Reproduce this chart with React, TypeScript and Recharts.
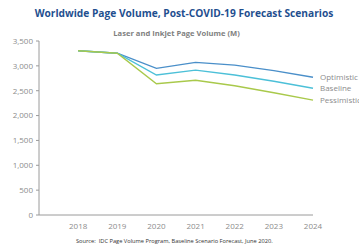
import React from 'react'
import { LineChart, Line, XAxis, YAxis, LabelList } from 'recharts'

const years = [2018, 2019, 2020, 2021, 2022, 2023, 2024]
const optimistic = [3305, 3255, 2950, 3070, 3015, 2905, 2770]
const baseline = [3305, 3255, 2815, 2915, 2815, 2690, 2550]
const pessimistic = [3305, 3255, 2640, 2710, 2600, 2460, 2310]
const yTicks = [0, 500, 1000, 1500, 2000, 2500, 3000, 3500]

const data = years.map((year, i) => ({
  year,
  optimistic: optimistic[i],
  baseline: baseline[i],
  pessimistic: pessimistic[i],
}))

const FONT = '"Open Sans", sans-serif'
const GRAY = '#8c8c8c'

const SERIES = [
  { key: 'optimistic', name: 'Optimistic', color: '#4a8fc9' },
  { key: 'baseline', name: 'Baseline', color: '#4cc0d8' },
  { key: 'pessimistic', name: 'Pessimistic', color: '#a9c94b' },
]

const fmt = (v: number) => v.toLocaleString('en-US')

function endLabel(name: string) {
  return (props: any) => {
    const { x, y, index } = props
    if (index !== years.length - 1) return null
    return (
      <text x={x + 7} y={y} dy={3} fill={GRAY} fontSize={8} fontFamily={FONT}>
        {name}
      </text>
    )
  }
}

export default function App() {
  return (
    <div style={{ position: 'fixed', left: 0, top: 0, width: 359, height: 250, overflow: 'hidden', background: '#fff', fontFamily: FONT }}>
      <div style={styles.title}>Worldwide Page Volume, Post-COVID-19 Forecast Scenarios</div>
      <div style={styles.subtitle}>Laser and Inkjet Page Volume (M)</div>
      <LineChart width={359} height={250} data={data} margin={{ top: 41, right: 46, bottom: 15, left: 0 }}>
        <XAxis
          dataKey="year"
          type="number"
          domain={[2017, 2024]}
          ticks={years}
          tickLine={false}
          stroke="#9a9a9a"
          height={20}
          tick={{ fill: GRAY, fontSize: 8, fontFamily: FONT }}
          tickMargin={2}
        />
        <YAxis
          domain={[0, 3500]}
          ticks={yTicks}
          width={39}
          tickSize={3}
          stroke="#9a9a9a"
          tickFormatter={fmt}
          tick={{ fill: GRAY, fontSize: 8, fontFamily: FONT }}
          tickMargin={3}
        />
        {SERIES.map(s => (
          <Line
            key={s.key}
            dataKey={s.key}
            stroke={s.color}
            strokeWidth={1.4}
            dot={false}
            isAnimationActive={false}
          >
            <LabelList dataKey={s.key} content={endLabel(s.name)} />
          </Line>
        ))}
      </LineChart>
      <div style={styles.source}>Source:&nbsp; IDC Page Volume Program, Baseline Scenario Forecast, June 2020.</div>
    </div>
  )
}

const styles = {
  title: {
    position: 'absolute',
    top: 6,
    left: 0,
    width: 368,
    textAlign: 'center',
    fontSize: 10.2,
    fontWeight: 700,
    color: '#1f4f8f',
    whiteSpace: 'nowrap',
  },
  subtitle: {
    position: 'absolute',
    top: 28,
    left: 0,
    width: 353,
    textAlign: 'center',
    fontSize: 7.6,
    fontWeight: 700,
    color: '#7f7f7f',
    whiteSpace: 'nowrap',
  },
  source: {
    position: 'absolute',
    top: 237,
    left: 76,
    fontSize: 5.7,
    color: '#333',
    whiteSpace: 'nowrap',
  },
} as const
